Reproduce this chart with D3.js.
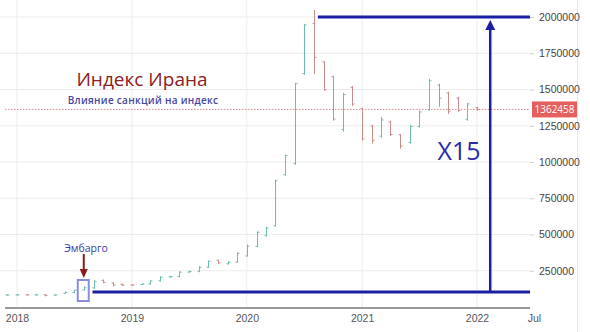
<!DOCTYPE html>
<html>
<head>
<meta charset="utf-8">
<script src="https://cdnjs.cloudflare.com/ajax/libs/d3/7.8.5/d3.min.js"></script>
<style>
  body { margin: 0; background: #fff; }
  svg { display: block; font-family: "Open Sans", "DejaVu Sans", sans-serif; }
</style>
</head>
<body>
<svg id="svg" width="590" height="332"></svg>
<script>
// monthly bars, Dec 2017 .. Jan 2022
const months = d3.utcMonths(new Date(Date.UTC(2017, 11, 1)), new Date(Date.UTC(2022, 1, 1)));

const opens = [83000, 83000, 84000, 83000, 84000, 82000, 94000, 100000, 118000, 132000, 184000, 165000, 156000,
  152000, 155000, 160000, 181000, 207000, 211000, 241000, 246000, 275000, 322000, 298000, 310000,
  352000, 418000, 492000, 560000, 912000, 990000, 1610000, 1956000, 1690000, 1588000, 1225000, 1515000,
  1368000, 1248000, 1178000, 1276000, 1188000, 1135000, 1245000, 1360000, 1530000, 1476000, 1440000, 1295000, 1375000];
const highs = [84000, 85000, 85000, 85000, 85000, 84000, 103000, 117000, 140000, 181000, 186000, 167000, 158000,
  153000, 160000, 181000, 209000, 213000, 243000, 248000, 278000, 317000, 324000, 312000, 374000,
  427000, 519000, 549000, 875000, 1047000, 1543000, 1949000, 2045000, 1694000, 1591000, 1474000, 1522000,
  1370000, 1253000, 1308000, 1281000, 1191000, 1253000, 1350000, 1570000, 1536000, 1481000, 1446000, 1405000, 1377000];
const lows = [82000, 82000, 82000, 82000, 77000, 82000, 94000, 98000, 117000, 129000, 167000, 145000, 149000,
  149000, 154000, 158000, 179000, 205000, 209000, 239000, 243000, 273000, 301000, 296000, 308000,
  351000, 415000, 489000, 558000, 909000, 985000, 1605000, 1611000, 1494000, 1288000, 1212000, 1391000,
  1150000, 1130000, 1171000, 1184000, 1095000, 1130000, 1240000, 1357000, 1384000, 1336000, 1350000, 1288000, 1357000];
const closes = [83000, 84000, 83000, 84000, 80000, 83000, 101000, 116000, 132000, 178000, 170000, 152000, 151000,
  151000, 159000, 179000, 205000, 210000, 240000, 245000, 274000, 315000, 304000, 309000, 370000,
  420000, 515000, 545000, 870000, 1045000, 1540000, 1945000, 1722000, 1500000, 1296000, 1465000, 1400000,
  1160000, 1150000, 1290000, 1190000, 1110000, 1245000, 1345000, 1560000, 1440000, 1350000, 1355000, 1400000, 1362458];

const yTicks = [250000, 500000, 750000, 1000000, 1250000, 1500000, 1750000, 2000000];
const xTickDates = [new Date(Date.UTC(2018, 0, 1)), new Date(Date.UTC(2019, 0, 1)), new Date(Date.UTC(2020, 0, 1)),
  new Date(Date.UTC(2021, 0, 1)), new Date(Date.UTC(2022, 0, 1)), new Date(Date.UTC(2022, 6, 1))];
const xTickLabels = ["2018", "2019", "2020", "2021", "2022", "Jul"];

const lastPrice = 1362458;
const baseLevel = 103000;   // level before the embargo
const topLevel = 2000000;   // peak level
const embargoMonth = new Date(Date.UTC(2018, 7, 1));

const svg = d3.select('#svg');
const plotLeft = 0, plotRight = 530;

const x = d3.scaleUtc()
  .domain([new Date(Date.UTC(2018, 0, 1)), new Date(Date.UTC(2022, 0, 1))])
  .range([17, 477]);
const y = d3.scaleLinear()
  .domain([0, 2000000])
  .range([307, 17]);

// gridlines
svg.append("g").selectAll("line.h")
  .data(yTicks).enter().append("line")
  .attr("x1", plotLeft).attr("x2", plotRight)
  .attr("y1", d => y(d)).attr("y2", d => y(d))
  .attr("stroke", "#ececec").attr("stroke-width", 1);
svg.append("g").selectAll("line.v")
  .data(xTickDates.slice(0, 5)).enter().append("line")
  .attr("x1", d => x(d)).attr("x2", d => x(d))
  .attr("y1", 0).attr("y2", 307)
  .attr("stroke", "#ececec").attr("stroke-width", 1);

// right border
svg.append("line").attr("x1", 577.5).attr("x2", 577.5).attr("y1", 0).attr("y2", 332)
  .attr("stroke", "#e6e6e6");

// x axis
const xAxis = svg.append("g")
  .attr("transform", "translate(0,308)")
  .call(d3.axisBottom(x).tickValues(xTickDates).tickFormat((d, i) => xTickLabels[i]).tickSize(0).tickPadding(7));
xAxis.select(".domain").remove();
xAxis.selectAll("text").attr("fill", "#555").style("font-size", "10.5px");
svg.append("line").attr("x1", 5).attr("x2", plotRight).attr("y1", 308).attr("y2", 308)
  .attr("stroke", "#999").attr("stroke-width", 2);

// y axis (right)
const yAxis = svg.append("g")
  .attr("transform", "translate(" + plotRight + ",0)")
  .call(d3.axisRight(y).tickValues(yTicks).tickFormat(d3.format("d")).tickSize(4).tickPadding(5));
yAxis.select(".domain").remove();
yAxis.selectAll("line").attr("stroke", "#ccc");
yAxis.selectAll("text").attr("fill", "#444").style("font-size", "10.5px");

// last price line
svg.append("line")
  .attr("x1", 5).attr("x2", plotRight)
  .attr("y1", y(lastPrice)).attr("y2", y(lastPrice))
  .attr("stroke", "#dc8c8c").attr("stroke-width", 1).attr("stroke-dasharray", "1.5,1.5");
svg.append("rect")
  .attr("x", 532).attr("y", y(lastPrice) - 8).attr("width", 45).attr("height", 16)
  .attr("fill", "#e45f5d");
svg.append("text")
  .attr("x", 554.5).attr("y", y(lastPrice) + 4)
  .attr("text-anchor", "middle").attr("fill", "#fff")
  .style("font-size", "10px").text(lastPrice);

// OHLC bars
const bars = months.map((m, i) => ({ date: m, o: opens[i], h: highs[i], l: lows[i], c: closes[i] }));
const colorOf = d => d.c >= d.o ? "#6cbcb1" : "#c98e8c";
const barG = svg.append("g").selectAll("g.bar").data(bars).enter().append("g")
  .attr("stroke", colorOf).attr("stroke-width", 1);
barG.append("line")
  .attr("x1", d => Math.round(x(d.date)) + 0.5).attr("x2", d => Math.round(x(d.date)) + 0.5)
  .attr("y1", d => y(d.h) - 0.5).attr("y2", d => y(d.l) + 0.5);
barG.append("line")
  .attr("x1", d => Math.round(x(d.date)) - 1.5).attr("x2", d => Math.round(x(d.date)) + 0.5)
  .attr("y1", d => y(d.o)).attr("y2", d => y(d.o));
barG.append("line")
  .attr("x1", d => Math.round(x(d.date)) + 0.5).attr("x2", d => Math.round(x(d.date)) + 2.5)
  .attr("y1", d => y(d.c)).attr("y2", d => y(d.c));

// annotations
const blue = "#1d1fa3";
const afterEmbargo = new Date(Date.UTC(2018, 8, 1));
const peakMonth = new Date(Date.UTC(2020, 7, 1));
const arrowDate = new Date(Date.UTC(2022, 1, 12));

svg.append("line")
  .attr("x1", x(afterEmbargo) - 1).attr("x2", plotRight)
  .attr("y1", y(baseLevel)).attr("y2", y(baseLevel))
  .attr("stroke", blue).attr("stroke-width", 3);
svg.append("line")
  .attr("x1", x(peakMonth) + 4).attr("x2", plotRight)
  .attr("y1", y(topLevel)).attr("y2", y(topLevel))
  .attr("stroke", blue).attr("stroke-width", 3);
svg.append("line")
  .attr("x1", x(arrowDate)).attr("x2", x(arrowDate))
  .attr("y1", y(baseLevel)).attr("y2", y(topLevel) + 10)
  .attr("stroke", blue).attr("stroke-width", 2.5);
svg.append("path")
  .attr("d", "M" + (x(arrowDate) - 5) + "," + (y(topLevel) + 13) + " L" + x(arrowDate) + "," + (y(topLevel) + 3) +
    " L" + (x(arrowDate) + 5) + "," + (y(topLevel) + 13) + "Z")
  .attr("fill", blue);
svg.append("text")
  .attr("x", 459).attr("y", 160)
  .attr("text-anchor", "middle").attr("fill", "#2a2ca8")
  .style("font-size", "25px").text("X15");

// embargo box + arrow
const ex = x(embargoMonth);
svg.append("rect")
  .attr("x", ex - 6).attr("y", 280).attr("width", 11).attr("height", 21)
  .attr("fill", "none").attr("stroke", "#8c8cdc").attr("stroke-width", 2);
svg.append("line")
  .attr("x1", ex).attr("x2", ex).attr("y1", 254).attr("y2", 270)
  .attr("stroke", "#8b1a1a").attr("stroke-width", 2);
svg.append("path")
  .attr("d", "M" + (ex - 4) + ",269 L" + ex + ",278 L" + (ex + 4) + ",269Z")
  .attr("fill", "#8b1a1a");
svg.append("text")
  .attr("x", 86).attr("y", 252)
  .attr("text-anchor", "middle").attr("fill", "#3a3aa0")
  .style("font-size", "10.5px").text("Эмбарго");

// titles
svg.append("text")
  .attr("x", 142).attr("y", 86)
  .attr("text-anchor", "middle").attr("fill", "#8b2020")
  .style("font-size", "19px").text("Индекс Ирана");
svg.append("text")
  .attr("x", 143).attr("y", 104)
  .attr("text-anchor", "middle").attr("fill", "#45459f")
  .style("font-size", "10px").style("font-weight", "600").style("letter-spacing", "0.3px")
  .text("Влияние санкций на индекс");
</script>
</body>
</html>
